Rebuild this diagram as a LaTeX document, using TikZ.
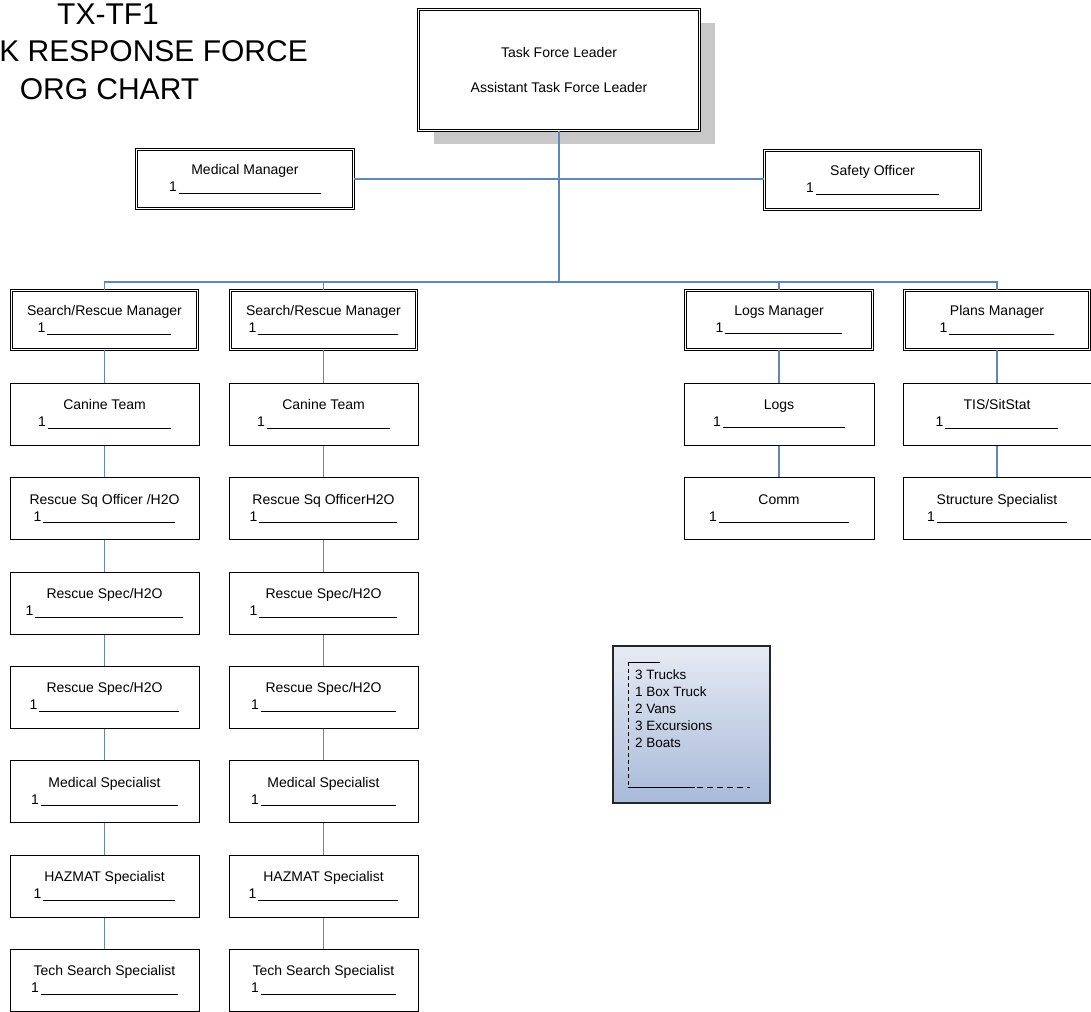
\documentclass[tikz,border=0pt]{standalone}
\usepackage{fontspec}
\setmainfont{Liberation Sans}
\usetikzlibrary{shadows}
\definecolor{conn}{RGB}{95,135,190}
\definecolor{shadowgray}{RGB}{200,200,200}
\definecolor{legtop}{RGB}{230,234,243}
\definecolor{legbot}{RGB}{168,186,218}
\newcommand{\blankline}[1]{1\hspace{2pt}\rule[-1.5pt]{#1pt}{0.8pt}}
\begin{document}
\begin{tikzpicture}[x=1pt,y=-1pt,
  box/.style={draw=black, line width=1pt, fill=white, inner sep=0pt,
    minimum width=189pt, minimum height=62pt, align=center,
    font=\fontsize{14}{17}\selectfont},
  dbox/.style={box, double=white, double distance=1.6pt, line width=0.9pt,
    minimum width=186pt, minimum height=59pt},
  link/.style={draw=conn, line width=1.1pt},
  titletext/.style={inner sep=0pt, font=\fontsize{30}{36}\selectfont},
  legendbox/.style={draw=black!85, line width=1.2pt, top color=legtop, bottom color=legbot,
    minimum width=157pt, minimum height=157pt, inner sep=0pt},
  legendtext/.style={inner sep=0pt, align=left, font=\fontsize{13.5}{16.8}\selectfont}
]
\useasboundingbox (0,0) rectangle (1091,1011);

% title
\node[titletext] (t1) at (108,14) {TX-TF1};
\node[titletext, anchor=east] (t2) at (308,51.5) {K RESPONSE FORCE};
\node[titletext] (t3) at (109.5,89) {ORG CHART};

% top box
\node[dbox, minimum width=281pt, minimum height=121pt,
  drop shadow={shadow xshift=15pt, shadow yshift=-14pt, fill=shadowgray, opacity=1}]
  (top) at (559,70) {Task Force Leader\\[18pt]Assistant Task Force Leader};

% second level
\node[dbox, minimum width=217pt] (med) at (245,179) {Medical Manager\\\blankline{142}};
\node[dbox, minimum width=216pt] (saf) at (872.5,180) {Safety Officer\\\blankline{123}};

% managers
\node[dbox] (s1) at (104.5,320) {Search/Rescue Manager\\\blankline{124}};
\node[dbox] (s2) at (323.5,320) {Search/Rescue Manager\\\blankline{140}};
\node[dbox, minimum width=187pt] (lm) at (779,320) {Logs Manager\\\blankline{117}};
\node[dbox, minimum width=185pt] (pm) at (997,320) {Plans Manager\\\blankline{105}};

% column 1
\node[box] (c1)   at (104.5,414)   {Canine Team\\\blankline{123}};
\node[box] (rq1)  at (104.5,508.5) {Rescue Sq Officer /H2O\\\blankline{132}};
\node[box] (rs1a) at (104.5,603)   {Rescue Spec/H2O\\\blankline{148}};
\node[box] (rs1b) at (104.5,697)   {Rescue Spec/H2O\\\blankline{140}};
\node[box] (ms1)  at (104.5,791.5) {Medical Specialist\\\blankline{137}};
\node[box] (hz1)  at (104.5,886)   {HAZMAT Specialist\\\blankline{132}};
\node[box] (ts1)  at (104.5,980)   {Tech Search Specialist\\\blankline{137}};

% column 2
\node[box] (c2)   at (323.5,414)   {Canine Team\\\blankline{123}};
\node[box] (rq2)  at (323.5,508.5) {Rescue Sq OfficerH2O\\\blankline{138}};
\node[box] (rs2a) at (323.5,603)   {Rescue Spec/H2O\\\blankline{138}};
\node[box] (rs2b) at (323.5,697)   {Rescue Spec/H2O\\\blankline{135}};
\node[box] (ms2)  at (323.5,791.5) {Medical Specialist\\\blankline{135}};
\node[box] (hz2)  at (323.5,886)   {HAZMAT Specialist\\\blankline{140}};
\node[box] (ts2)  at (323.5,980)   {Tech Search Specialist\\\blankline{135}};

% logs column
\node[box, minimum width=190pt] (lg) at (779,414)   {Logs\\\blankline{122}};
\node[box, minimum width=190pt] (cm) at (779,508.5) {Comm\\\blankline{130}};

% plans column
\node[box, minimum width=188pt] (tis) at (997,414)   {TIS/SitStat\\\blankline{113}};
\node[box, minimum width=188pt] (st)  at (997,508.5) {Structure Specialist\\\blankline{130}};

% legend
\node[legendbox] (leg) at (691.5,724.5) {};
\draw[line width=0.9pt] (628,662) -- (660,662);
\draw[line width=0.9pt, dash pattern=on 4pt off 3pt] (628,662) -- (628,787);
\draw[line width=0.9pt] (628,787) -- (695,787);
\draw[line width=0.9pt, dash pattern=on 6pt off 4pt] (697,787) -- (750,787);
\node[legendtext, anchor=north west] (legt) at (635,670)
  {3 Trucks\\1 Box Truck\\2 Vans\\3 Excursions\\2 Boats};

% connectors
\coordinate (bus) at (559,282);
\draw[link] (top.south) -- (bus);
\draw[link] (med.east) -- (med.east -| saf.west);
\draw[link] (s1.north) |- (bus) -| (pm.north);
\draw[link] (s2.north) -- (s2.north |- bus);
\draw[link] (lm.north) -- (lm.north |- bus);

\draw[link] (s1) -- (c1) (c1) -- (rq1) (rq1) -- (rs1a) (rs1a) -- (rs1b)
  (rs1b) -- (ms1) (ms1) -- (hz1) (hz1) -- (ts1);
\draw[link] (s2) -- (c2) (c2) -- (rq2) (rq2) -- (rs2a) (rs2a) -- (rs2b)
  (rs2b) -- (ms2) (ms2) -- (hz2) (hz2) -- (ts2);
\draw[link] (lm) -- (lg) (lg) -- (cm);
\draw[link] (pm) -- (tis) (tis) -- (st);
\end{tikzpicture}
\end{document}
